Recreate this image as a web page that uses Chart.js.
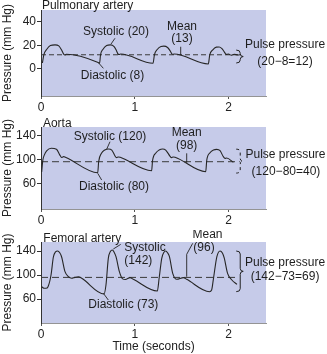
<!DOCTYPE html>
<html><head><meta charset="utf-8">
<script src="https://cdn.jsdelivr.net/npm/chart.js@4.4.1/dist/chart.umd.min.js"></script>
<style>
html,body{margin:0;padding:0;background:#fff;}
#wrap{position:relative;width:327px;height:354px;overflow:hidden;}
canvas{position:absolute;left:0;}
</style></head><body>
<div id="wrap">
<canvas id="c1" width="327" height="115" style="top:0px"></canvas>
<canvas id="c2" width="327" height="115" style="top:115px"></canvas>
<canvas id="c3" width="327" height="124" style="top:230px"></canvas>
</div>
<script>
const FONT = '"Liberation Sans", Arial, Helvetica, sans-serif';
const BG = '#c6cbe9';

// ---- axis ticks ----
const xTickVals = [0, 1, 2];
const pulmTicks = [0, 20, 40];
const aortaTicks = [60, 100, 140];
const femTicks = [60, 100, 140];

// ---- Pulmonary artery trace (time s, mm Hg) ----
const pulmT = [0.015,0.03,0.06,0.10,0.15,0.19,0.22,0.24,0.255,0.27,0.61,0.625,0.635,0.66,0.70,0.74,0.78,0.805,0.82,0.835,0.85,1.195,1.21,1.24,1.28,1.31,1.35,1.38,1.40,1.42,1.785,1.80,1.83,1.87,1.90,1.93,1.955,1.975,2.00,2.03,2.06,2.10,2.13];
const pulmV = [5,12,16.5,19.8,20.4,19.5,16,12.8,11.8,12.5,5.5,4.8,12,16.5,19.8,20.4,19,15.5,12.8,12.2,12.6,4.8,12,16.5,19,19.3,18.2,15,12.4,12.6,4.2,12,16,18.5,18.6,17.2,14.5,12.3,12.6,11.6,12.4,11.8,12.1];
const pulmMean = 12;
const pulmMeanT = [0, 2.12];

// ---- Aorta trace ----
const aortaT = [0.007,0.02,0.035,0.06,0.11,0.165,0.20,0.22,0.24,0.26,0.605,0.615,0.645,0.68,0.72,0.755,0.79,0.805,0.825,0.845,1.18,1.19,1.225,1.26,1.298,1.33,1.375,1.392,1.41,1.43,1.757,1.768,1.803,1.84,1.874,1.91,1.945,1.963,1.98,2.052];
const aortaV = [80,100,108,115,119.4,117.8,108.5,104,105.5,104.5,78.6,97,111,116.5,118.2,116.5,106.5,103.8,105,104.3,82,99,111.5,116.5,118.2,116.5,106.5,103.8,105,104.5,80.3,99.4,112,116.5,117.6,115.4,105.4,102.6,103.2,96];
const aortaMean = 97;
const aortaMeanT = [0, 2.12];

// ---- Femoral artery trace ----
const femT = [0.007,0.03,0.053,0.075,0.107,0.132,0.155,0.178,0.20,0.22,0.256,0.292,0.327,0.36,0.398,0.434,0.672,0.693,0.718,0.74,0.761,0.78,0.80,0.836,0.871,0.90,0.95,0.985,1.241,1.26,1.288,1.31,1.33,1.35,1.37,1.405,1.448,1.519,1.554,1.797,1.82,1.84,1.876,1.91,1.935,1.955,1.99,2.036,2.09];
const femV = [80.5,78,77.8,80.5,100,130,138.5,140,137,130,105.6,97.2,94.5,96,97.2,94.5,68.3,83.3,127.8,139,141.7,138,130.5,105.6,93.5,92.5,95.6,92.8,73.3,94.5,127.8,137.5,140,137,130.5,102.8,92.8,95.6,92.8,72.2,75,94.5,130.5,140,136.5,128,102.8,91.7,84.4];
const femMean = 96;
const femMeanT = [0, 2.10];

// ---- annotations (data coordinates) ----
const pulmAnn = {
  texts: [
    {s:'Pulmonary artery', t:0.01, v:53.4, a:'left'},
    {s:'Systolic (20)', t:0.80, v:31.3},
    {s:'Mean', t:1.504, v:35.6},
    {s:'(13)', t:1.504, v:25.4},
    {s:'Diastolic (8)', t:0.763, v:-5.6},
    {s:'Pulse pressure', t:2.603, v:20.3},
    {s:'(20\u22128=12)', t:2.603, v:5.9}
  ],
  leaders: [[0.789,26,0.746,21],[1.49,18.8,1.49,11.8],[0.611,5.4,0.665,0.5]],
  brace: {t:2.125, v1:16, v2:5, dash:[]}
};
const aortaAnn = {
  texts: [
    {s:'Aorta', t:0.02, v:161.2, a:'left'},
    {s:'Systolic (120)', t:0.736, v:138.8},
    {s:'Mean', t:1.554, v:145.5},
    {s:'(98)', t:1.554, v:123.8},
    {s:'Diastolic (80)', t:0.779, v:55.3},
    {s:'Pulse pressure', t:2.608, v:108.2},
    {s:'(120\u221280=40)', t:2.613, v:80.3}
  ],
  leaders: [[0.736,130.4,0.70,117.7],[1.554,111,1.554,95],[0.605,77.6,0.647,66.4]],
  brace: {t:2.125, v1:118, v2:78, dash:[3,3]}
};
const femAnn = {
  texts: [
    {s:'Femoral artery', t:0.025, v:160, a:'left'},
    {s:'Systolic', t:1.109, v:145.5},
    {s:'(142)', t:1.038, v:123.3},
    {s:'Mean', t:1.776, v:166.7},
    {s:'(96)', t:1.739, v:145.5},
    {s:'Diastolic (73)', t:0.878, v:50},
    {s:'Pulse pressure', t:2.603, v:120.5},
    {s:'(142\u221273=69)', t:2.603, v:97.2}
  ],
  leaders: [[0.85,151,0.771,143.3],[1.618,152.8,1.554,134.5,1.554,97.2],[0.665,69.5,0.718,58.3]],
  brace: {t:2.125, v1:140, v2:72.2, dash:[]}
};

const bgPlugin = {
  id:'bg',
  beforeDraw(chart){
    const {ctx, chartArea:a} = chart;
    ctx.save(); ctx.fillStyle = BG;
    ctx.fillRect(a.left, a.top, a.right - a.left, a.bottom - a.top);
    ctx.restore();
  }
};

function annotPlugin(ann){
  return {
    id:'annot',
    afterDraw(chart){
      const {ctx} = chart; const x = chart.scales.x, y = chart.scales.y;
      const px = t => x.getPixelForValue(t), py = v => y.getPixelForValue(v);
      ctx.save();
      ctx.strokeStyle = '#222'; ctx.lineWidth = 0.9;
      ann.leaders.forEach(L => {
        ctx.beginPath();
        for (let i = 0; i < L.length; i += 2) {
          const X = px(L[i]), Y = py(L[i+1]);
          if (i === 0) ctx.moveTo(X, Y); else ctx.lineTo(X, Y);
        }
        ctx.stroke();
      });
      const b = ann.brace;
      const bx = px(b.t), y1 = py(b.v1), y2 = py(b.v2), ym = (y1 + y2) / 2;
      ctx.setLineDash(b.dash);
      ctx.lineWidth = 1;
      ctx.beginPath();
      ctx.moveTo(bx - 4, y1); ctx.quadraticCurveTo(bx, y1, bx, y1 + 3);
      ctx.lineTo(bx, ym - 3); ctx.quadraticCurveTo(bx, ym, bx + 3, ym);
      ctx.quadraticCurveTo(bx, ym, bx, ym + 3);
      ctx.lineTo(bx, y2 - 3); ctx.quadraticCurveTo(bx, y2, bx - 4, y2);
      ctx.stroke();
      ctx.setLineDash([]);
      ctx.fillStyle = '#1e1e1e'; ctx.font = '12px ' + FONT; ctx.textBaseline = 'middle';
      ann.texts.forEach(T => { ctx.textAlign = T.a || 'center'; ctx.fillText(T.s, px(T.t), py(T.v)); });
      ctx.restore();
    }
  };
}

function makeChart(id, p){
  const pts = p.t.map((t, i) => ({x:t, y:p.v[i]}));
  const mean = p.meanT.map(t => ({x:t, y:p.mean}));
  return new Chart(document.getElementById(id), {
    type:'line',
    data:{datasets:[
      {data:pts, borderColor:'#262626', borderWidth:1.1, pointRadius:0, cubicInterpolationMode:'monotone', fill:false},
      {data:mean, borderColor:'#3a3a3a', borderWidth:1, borderDash:p.dash, pointRadius:0, fill:false}
    ]},
    options:{
      responsive:false, animation:false, events:[],
      layout:{padding:{top:p.padTop, right:61, left:0, bottom:0}},
      plugins:{legend:{display:false}, tooltip:{enabled:false}},
      scales:{
        x:{type:'linear', min:0, max:2.4,
          afterFit:s => { s.height = p.xH; },
          afterBuildTicks:s => { s.ticks = xTickVals.map(v => ({value:v})); },
          grid:{drawOnChartArea:false, drawTicks:true, tickLength:3, color:'#555'},
          border:{display:true, color:'rgba(60,60,60,0.55)', dash:[2,2]},
          ticks:{padding:1, color:'#222', font:{family:FONT, size:12}},
          title:{display:!!p.xTitle, text:p.xTitle || '', padding:0, color:'#222', font:{family:FONT, size:12}}
        },
        y:{type:'linear', min:p.yMin, max:p.yMax,
          afterFit:s => { s.width = 41; },
          afterBuildTicks:s => { s.ticks = p.yTicks.map(v => ({value:v})); },
          grid:{drawOnChartArea:false, drawTicks:true, tickLength:4, color:'#333'},
          border:{display:true, color:'#333'},
          ticks:{padding:1, color:'#222', font:{family:FONT, size:12}},
          title:{display:true, text:'Pressure (mm Hg)', padding:0, color:'#222', font:{family:FONT, size:12}}
        }
      }
    },
    plugins:[bgPlugin, annotPlugin(p.ann)]
  });
}

makeChart('c1', {t:pulmT, v:pulmV, mean:pulmMean, meanT:pulmMeanT, dash:[5,3], padTop:10, xH:19, yMin:-23, yMax:50, yTicks:pulmTicks, ann:pulmAnn});
makeChart('c2', {t:aortaT, v:aortaV, mean:aortaMean, meanT:aortaMeanT, dash:[7,4], padTop:12, xH:21, yMin:18, yMax:155, yTicks:aortaTicks, ann:aortaAnn});
makeChart('c3', {t:femT, v:femV, mean:femMean, meanT:femMeanT, dash:[7,4], padTop:12, xH:31, yMin:20, yMax:155, yTicks:femTicks, ann:femAnn, xTitle:'Time (seconds)'});
</script>
</body></html>
